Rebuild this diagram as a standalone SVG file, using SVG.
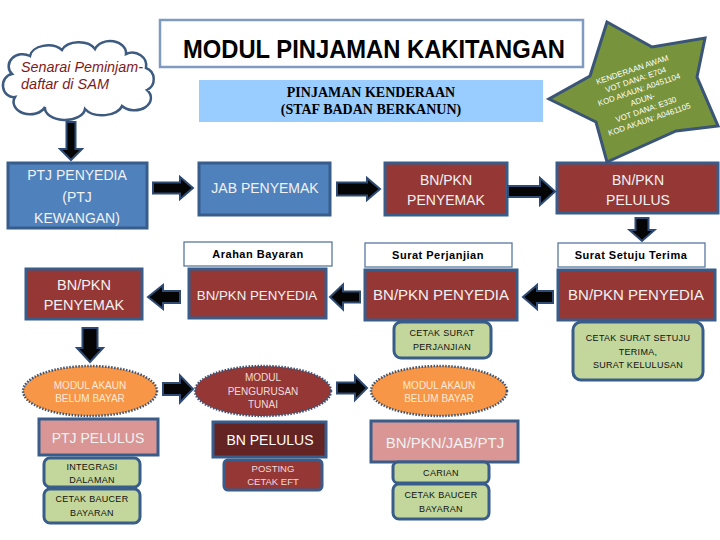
<svg xmlns="http://www.w3.org/2000/svg" width="720" height="540" viewBox="0 0 720 540">
<style>
text{font-family:"Liberation Sans",Arial,sans-serif;text-anchor:middle}
.blue{fill:#4f81bd;stroke:#385d8a;stroke-width:3}
.red{fill:#953735;stroke:#385d8a;stroke-width:3}
.dred{fill:#632423;stroke:#385d8a;stroke-width:3}
.pink{fill:#d99694;stroke:#385d8a;stroke-width:3}
.grn{fill:#c3d69b;stroke:#385d8a;stroke-width:3}
.lbl{fill:#ffffff;stroke:#5a78a0;stroke-width:1.3}
.ell{stroke:#3b5375;stroke-width:2.5;stroke-dasharray:1.5 1.5}
.wt{fill:#f2f2f2}
.lt{font-size:11px;font-weight:bold;fill:#000;letter-spacing:0.5px}
.gt{font-size:9px;fill:#111;letter-spacing:0.3px}
.ct{font-size:14px;font-style:italic;fill:#7f1a1a;text-anchor:start}
.arr{fill:#050505;stroke:#2f4b74;stroke-width:2;stroke-linejoin:miter}
</style>
<rect width="720" height="540" fill="#ffffff"/>

<g id="cloud">
<path d="M12,74 A14,12 0 0 1 30,56 A18,12 0 0 1 62,50 A18,12 0 0 1 95,49 A16,12 0 0 1 126,54 A14,13 0 0 1 146,68 A12,12 0 0 1 147,90 A16,12 0 0 1 122,106 A20,12 0 0 1 85,109 A20,12 0 0 1 45,107 A16,12 0 0 1 15,97 A10,11 0 0 1 12,74 Z" fill="#ffffff" stroke="#3d5a80" stroke-width="2.5"/>
<text class="ct" x="21" y="72" textLength="122" lengthAdjust="spacingAndGlyphs">Senarai Peminjam-</text>
<text class="ct" x="21" y="89" textLength="88" lengthAdjust="spacingAndGlyphs">daftar di SAM</text>
</g>

<g id="title">
<rect x="160" y="20" width="423" height="47" fill="#ffffff" stroke="#7f9bbf" stroke-width="2.5"/>
<text x="374" y="58" font-size="26" font-weight="bold" textLength="382" lengthAdjust="spacingAndGlyphs">MODUL PINJAMAN KAKITANGAN</text>
</g>

<g id="subtitle">
<rect x="199" y="80" width="344" height="42" fill="#99ccff"/>
<text x="371" y="97" font-size="14" font-weight="bold" style="font-family:'Liberation Serif',serif">PINJAMAN KENDERAAN</text>
<text x="371" y="114" font-size="14" font-weight="bold" style="font-family:'Liberation Serif',serif">(STAF BADAN BERKANUN)</text>
</g>

<g id="ptj-penyedia">
<rect class="blue" x="8" y="163" width="139" height="65"/>
<text class="wt" x="77" y="180" font-size="14">PTJ PENYEDIA</text>
<text class="wt" x="77" y="202" font-size="14">(PTJ</text>
<text class="wt" x="77" y="223" font-size="14">KEWANGAN)</text>
</g>

<g id="jab-penyemak">
<rect class="blue" x="199" y="163" width="131" height="52"/>
<text class="wt" x="265" y="193" font-size="14">JAB PENYEMAK</text>
</g>

<g id="bnpkn-penyemak-top">
<rect class="red" x="385" y="163" width="122" height="52"/>
<text class="wt" x="446" y="185" font-size="14">BN/PKN</text>
<text class="wt" x="446" y="205" font-size="14">PENYEMAK</text>
</g>

<g id="bnpkn-pelulus">
<rect class="red" x="557" y="163" width="161" height="50"/>
<text class="wt" x="638" y="185" font-size="14">BN/PKN</text>
<text class="wt" x="638" y="205" font-size="14">PELULUS</text>
</g>

<g id="star">
<polygon points="607,22 652,47 705,38 697,77 718,126 676,131 607,162 596,122 549,99 590,76" fill="#77933c" stroke="#3a5577" stroke-width="3" stroke-linejoin="miter"/>
<g transform="translate(641,95) rotate(-19)" font-size="8" fill="#ffffff">
<text x="0" y="-24">KENDERAAN AWAM</text>
<text x="0" y="-13.5">VOT DANA: E704</text>
<text x="0" y="-3">KOD AKAUN: A0451104</text>
<text x="0" y="7.5">ADUN-</text>
<text x="0" y="18">VOT DANA: E330</text>
<text x="0" y="28.5">KOD AKAUN: A0461105</text>
</g>
</g>

<g id="arahan-bayaran">
<rect class="lbl" x="184" y="242" width="148" height="24"/>
<text class="lt" x="258" y="258">Arahan Bayaran</text>
</g>
<g id="surat-perjanjian">
<rect class="lbl" x="365" y="243" width="147" height="24"/>
<text class="lt" x="438" y="259">Surat Perjanjian</text>
</g>
<g id="surat-setuju-terima">
<rect class="lbl" x="558" y="243" width="147" height="24"/>
<text class="lt" x="631" y="259">Surat Setuju Terima</text>
</g>

<g id="bnpkn-penyemak-left">
<rect class="red" x="26" y="269" width="116" height="50"/>
<text class="wt" x="84" y="290" font-size="14.5">BN/PKN</text>
<text class="wt" x="84" y="310" font-size="14.5">PENYEMAK</text>
</g>
<g id="bnpkn-penyedia-left">
<rect class="red" x="189" y="269" width="137" height="49"/>
<text class="wt" x="257" y="300" font-size="13.3">BN/PKN PENYEDIA</text>
</g>
<g id="bnpkn-penyedia-mid">
<rect class="red" x="365" y="270" width="152" height="50"/>
<text class="wt" x="441" y="300" font-size="15">BN/PKN PENYEDIA</text>
</g>
<g id="bnpkn-penyedia-right">
<rect class="red" x="558" y="270" width="157" height="50"/>
<text class="wt" x="636" y="300" font-size="15">BN/PKN PENYEDIA</text>
</g>

<g id="cetak-surat-perjanjian">
<rect class="grn" x="394" y="322" width="97" height="36" rx="7"/>
<text class="gt" x="442" y="336">CETAK SURAT</text>
<text class="gt" x="442" y="350">PERJANJIAN</text>
</g>
<g id="cetak-surat-setuju">
<rect class="grn" x="573" y="322" width="130" height="58" rx="8"/>
<text class="gt" x="638" y="341">CETAK SURAT SETUJU</text>
<text class="gt" x="638" y="355">TERIMA,</text>
<text class="gt" x="638" y="368">SURAT KELULUSAN</text>
</g>

<g id="modul-akaun-1">
<ellipse class="ell" cx="90" cy="391" rx="67" ry="25" fill="#f79646"/>
<text x="90" y="389" font-size="10" fill="#fdeada">MODUL AKAUN</text>
<text x="90" y="402" font-size="10" fill="#fdeada">BELUM BAYAR</text>
</g>
<g id="modul-pengurusan-tunai">
<ellipse class="ell" cx="263" cy="391" rx="68" ry="25" fill="#953735"/>
<text x="263" y="381" font-size="10" fill="#f2dcdb">MODUL</text>
<text x="263" y="395" font-size="10" fill="#f2dcdb">PENGURUSAN</text>
<text x="263" y="408" font-size="10" fill="#f2dcdb">TUNAI</text>
</g>
<g id="modul-akaun-2">
<ellipse class="ell" cx="439" cy="391" rx="68" ry="25" fill="#f79646"/>
<text x="439" y="389" font-size="10" fill="#fdeada">MODUL AKAUN</text>
<text x="439" y="402" font-size="10" fill="#fdeada">BELUM BAYAR</text>
</g>

<g id="ptj-pelulus">
<rect class="pink" x="39" y="419" width="119" height="36"/>
<text x="98" y="443" font-size="14" fill="#f2f2f2">PTJ PELULUS</text>
</g>
<g id="integrasi-dalaman">
<rect class="grn" x="44" y="458" width="96" height="29" rx="6"/>
<text class="gt" x="92" y="470">INTEGRASI</text>
<text class="gt" x="92" y="483">DALAMAN</text>
</g>
<g id="cetak-baucer-1">
<rect class="grn" x="44" y="489" width="96" height="34" rx="6"/>
<text class="gt" x="92" y="502">CETAK BAUCER</text>
<text class="gt" x="92" y="516">BAYARAN</text>
</g>

<g id="bn-pelulus">
<rect class="dred" x="213" y="422" width="113" height="35"/>
<text x="270" y="445" font-size="14" fill="#ffffff">BN PELULUS</text>
</g>
<g id="posting-cetak-eft">
<rect class="red" x="224" y="460" width="98" height="30" rx="4"/>
<text x="273" y="472" font-size="9.5" fill="#f2dcdb">POSTING</text>
<text x="273" y="485" font-size="9.5" fill="#f2dcdb">CETAK EFT</text>
</g>

<g id="bnpkn-jab-ptj">
<rect class="pink" x="371" y="421" width="147" height="41"/>
<text x="445" y="448" font-size="15" fill="#f2f2f2">BN/PKN/JAB/PTJ</text>
</g>
<g id="carian">
<rect class="grn" x="393" y="462" width="96" height="21" rx="5"/>
<text class="gt" x="441" y="476">CARIAN</text>
</g>
<g id="cetak-baucer-2">
<rect class="grn" x="393" y="484" width="96" height="35" rx="6"/>
<text class="gt" x="441" y="498">CETAK BAUCER</text>
<text class="gt" x="441" y="512">BAYARAN</text>
</g>

<g id="connectors">
<path class="arr" d="M66.5,122 L75.5,122 L75.5,149 L82,149 L71,160 L60,149 L66.5,149 Z"/>
<path class="arr" d="M153,182.5 L180,182.5 L180,177 L193,188 L180,199 L180,193.5 L153,193.5 Z"/>
<path class="arr" d="M337,182.5 L367,182.5 L367,178 L380,189 L367,200 L367,195.5 L337,195.5 Z"/>
<path class="arr" d="M508,186 L540,186 L540,178 L555,191.5 L540,205 L540,197 L508,197 Z"/>
<path class="arr" d="M635.5,218 L648.5,218 L648.5,230 L654.5,230 L642,241 L629.5,230 L635.5,230 Z"/>
<path class="arr" d="M553,291 L537,291 L537,285 L523,297 L537,309 L537,303 L553,303 Z"/>
<path class="arr" d="M360,291.5 L343,291.5 L343,284.5 L330,297 L343,309.5 L343,302.5 L360,302.5 Z"/>
<path class="arr" d="M180,291 L163,291 L163,285 L148,297 L163,309 L163,303 L180,303 Z"/>
<path class="arr" d="M82.5,328 L97.5,328 L97.5,348 L103,348 L90,362 L77,348 L82.5,348 Z"/>
<path class="arr" d="M163,383 L180,383 L180,375.5 L193,389 L180,402.5 L180,395 L163,395 Z"/>
<path class="arr" d="M337,382.5 L355,382.5 L355,376 L367,388 L355,400 L355,393.5 L337,393.5 Z"/>
</g>
</svg>
